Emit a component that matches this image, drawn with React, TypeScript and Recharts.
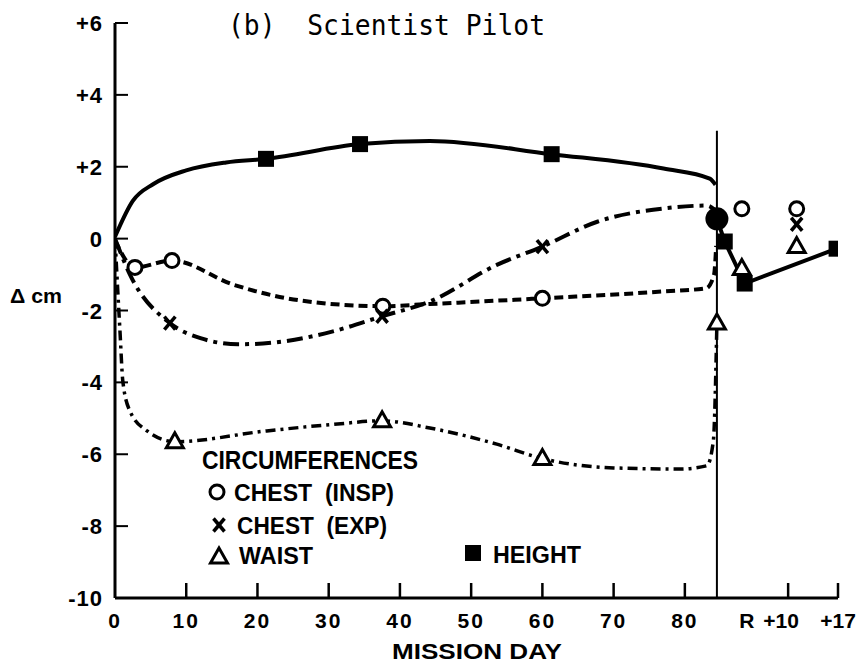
import { ComposedChart, Line, Scatter, XAxis, YAxis, ReferenceLine } from 'recharts';

// in-flight curves; m marks a plotted symbol, other points trace the drawn curve
const heightFlight = [
  { x: 0, y: 0.05 }, { x: 2.5, y: 1.05 }, { x: 5.4, y: 1.52 }, { x: 10, y: 1.9 },
  { x: 15.6, y: 2.12 }, { x: 21.2, y: 2.22, m: 1 }, { x: 34.4, y: 2.63, m: 1 },
  { x: 44.2, y: 2.72 }, { x: 61.3, y: 2.35, m: 1 }, { x: 77, y: 1.95 },
  { x: 83.5, y: 1.67 }, { x: 84.3, y: 1.5 },
];
const heightPost = [
  { x: 84.5, y: 0.55 }, { x: 85.6, y: -0.08, m: 1 }, { x: 88.4, y: -1.25, m: 1 },
  { x: 101.3, y: -0.28, m: 1 },
];
const chestInsp = [
  { x: 0, y: -0.05 }, { x: 2.8, y: -0.8, m: 1 }, { x: 8.0, y: -0.61, m: 1 },
  { x: 16.6, y: -1.28 }, { x: 26, y: -1.72 }, { x: 37.6, y: -1.88, m: 1 },
  { x: 44.2, y: -1.82 }, { x: 60, y: -1.66, m: 1 }, { x: 77, y: -1.47 },
  { x: 83, y: -1.38 }, { x: 84.1, y: -1.0 }, { x: 84.4, y: -0.2 },
];
const chestExp = [
  { x: 0, y: 0 }, { x: 2.1, y: -1.0 }, { x: 7.7, y: -2.35, m: 1 }, { x: 12, y: -2.77 },
  { x: 17.3, y: -2.94 }, { x: 24, y: -2.85 }, { x: 30.6, y: -2.58 },
  { x: 37.5, y: -2.16, m: 1 }, { x: 44.2, y: -1.75 }, { x: 53.6, y: -0.73 },
  { x: 60, y: -0.22, m: 1 }, { x: 67.7, y: 0.47 }, { x: 77, y: 0.84 },
  { x: 83.1, y: 0.92 }, { x: 84.2, y: 0.8 },
];
const waist = [
  { x: 0, y: 0 }, { x: 0.7, y: -2.58 }, { x: 1.1, y: -3.97 }, { x: 2.1, y: -4.8 },
  { x: 4.5, y: -5.35 }, { x: 8.4, y: -5.65, m: 1 }, { x: 21.3, y: -5.35 },
  { x: 30.6, y: -5.17 }, { x: 37.5, y: -5.07, m: 1 }, { x: 44.2, y: -5.27 },
  { x: 53.6, y: -5.72 }, { x: 60, y: -6.12, m: 1 }, { x: 70, y: -6.38 },
  { x: 79.4, y: -6.41 }, { x: 83.1, y: -6.32 }, { x: 84, y: -5.63 },
  { x: 84.5, y: -2.35, m: 1 },
];

// recovery / post-flight isolated points
const postInsp = [{ x: 88, y: 0.83 }, { x: 95.7, y: 0.83 }];
const postExp = [{ x: 95.7, y: 0.4 }];
const postWaist = [{ x: 88, y: -0.83 }, { x: 95.7, y: -0.22 }];
const recoveryDot = [{ x: 84.5, y: 0.55 }];

const splashdownDay = 84.5;
const yTicks = [-10, -8, -6, -4, -2, 0, 2, 4, 6];
const xTickValues = [0, 10, 20, 30, 40, 50, 60, 70, 80, 89, 94.5, 101.5];
const xTickLabels = ['0', '10', '20', '30', '40', '50', '60', '70', '80', 'R', '+10', '+17'];

const FONT = '"Liberation Sans", Arial, sans-serif';

function Mark({ kind, cx, cy }: { kind: string; cx: number; cy: number }) {
  if (kind === 'circle')
    return <circle cx={cx} cy={cy} r={7} fill="#fff" stroke="#000" strokeWidth={3} />;
  if (kind === 'x')
    return (
      <g stroke="#000" strokeWidth={3.5}>
        <line x1={cx - 5.5} y1={cy - 6.5} x2={cx + 5.5} y2={cy + 6.5} />
        <line x1={cx + 5.5} y1={cy - 6.5} x2={cx - 5.5} y2={cy + 6.5} />
      </g>
    );
  if (kind === 'tri')
    return (
      <polygon
        points={`${cx},${cy - 9} ${cx - 8.5},${cy + 6} ${cx + 8.5},${cy + 6}`}
        fill="#fff"
        stroke="#000"
        strokeWidth={3}
      />
    );
  if (kind === 'square') return <rect x={cx - 8} y={cy - 8} width={16} height={16} fill="#000" />;
  return <circle cx={cx} cy={cy} r={11.5} fill="#000" />;
}

const dotFor = (kind: string) => (props: any) => {
  const { cx, cy, payload, index } = props;
  if (!payload || !payload.m || cx == null) return <g key={index} />;
  return <Mark key={index} kind={kind} cx={cx} cy={cy} />;
};

const shapeFor = (kind: string) => (props: any) => <Mark kind={kind} cx={props.cx} cy={props.cy} />;

function XTick({ x, y, payload }: any) {
  const i = xTickValues.indexOf(payload.value);
  const label = xTickLabels[i] ?? '';
  const showLine = label !== '0' && label !== 'R';
  const post = label === 'R' || label.startsWith('+');
  const dx = label === '+10' ? -7 : label === 'R' ? -2 : 0;
  return (
    <g>
      {showLine && <line x1={x} y1={y} x2={x} y2={y - 15} stroke="#000" strokeWidth={2.5} />}
      <text x={x + dx} y={y + 30} textAnchor="middle" fontFamily={FONT} fontWeight="bold" fontSize={21}
        letterSpacing={post ? 0 : 2} fill="#000">
        {label}
      </text>
    </g>
  );
}

function YTick({ x, y, payload }: any) {
  const v = payload.value;
  const label = v > 0 ? `+${v}` : `${v}`;
  return (
    <g>
      <line x1={x} y1={y} x2={x + 13} y2={y} stroke="#000" strokeWidth={2} />
      <text x={x - 12} y={y + 8} textAnchor="end" fontFamily={FONT} fontWeight="bold" fontSize={22}
        letterSpacing={1} fill="#000">
        {label}
      </text>
    </g>
  );
}

export default function App() {
  return (
    <div style={{ position: 'absolute', left: 0, top: 0, width: 862, height: 667, background: '#fff' }}>
      <ComposedChart width={862} height={667} margin={{ top: 23, right: 24, bottom: 0, left: 0 }}>
        <XAxis
          type="number"
          dataKey="x"
          domain={[0, 101.5]}
          ticks={xTickValues}
          interval={0}
          tick={<XTick />}
          tickLine={false}
          tickSize={0}
          tickMargin={0}
          height={69}
          axisLine={{ stroke: '#000', strokeWidth: 3 }}
          allowDataOverflow
        />
        <YAxis
          type="number"
          dataKey="y"
          domain={[-10, 6]}
          ticks={yTicks}
          interval={0}
          tick={<YTick />}
          tickLine={false}
          tickSize={0}
          tickMargin={0}
          width={115}
          axisLine={{ stroke: '#000', strokeWidth: 3 }}
          allowDataOverflow
        />
        <ReferenceLine
          segment={[{ x: splashdownDay, y: 3.0 }, { x: splashdownDay, y: -10 }]}
          stroke="#000"
          strokeWidth={2}
        />
        <Line data={heightFlight} dataKey="y" type="monotone" stroke="#000" strokeWidth={4}
          dot={dotFor('square')} activeDot={false} isAnimationActive={false} />
        <Line data={heightPost} dataKey="y" type="linear" stroke="#000" strokeWidth={4}
          dot={dotFor('square')} activeDot={false} isAnimationActive={false} />
        <Line data={chestInsp} dataKey="y" type="monotone" stroke="#000" strokeWidth={4}
          strokeDasharray="9 5" dot={dotFor('circle')} activeDot={false} isAnimationActive={false} />
        <Line data={chestExp} dataKey="y" type="monotone" stroke="#000" strokeWidth={4}
          strokeDasharray="16 6 4 6" dot={dotFor('x')} activeDot={false} isAnimationActive={false} />
        <Line data={waist} dataKey="y" type="monotone" stroke="#000" strokeWidth={3.5}
          strokeDasharray="10 5 3 5" dot={dotFor('tri')} activeDot={false} isAnimationActive={false} />
        <Scatter data={postInsp} shape={shapeFor('circle')} isAnimationActive={false} />
        <Scatter data={postExp} shape={shapeFor('x')} isAnimationActive={false} />
        <Scatter data={postWaist} shape={shapeFor('tri')} isAnimationActive={false} />
        <Scatter data={recoveryDot} shape={shapeFor('dot')} isAnimationActive={false} />
      </ComposedChart>

      <svg width={862} height={667} style={{ position: 'absolute', left: 0, top: 0, pointerEvents: 'none' }}>
        <text x={228} y={35} fontFamily='"DejaVu Sans Mono", "Liberation Mono", monospace' fontSize={28}
          textLength={317} lengthAdjust="spacingAndGlyphs" xmlSpace="preserve">
          (b)  Scientist Pilot
        </text>
        <g fontFamily={FONT} fontWeight="bold" fill="#000">
          <text x={10} y={303} fontSize={21} textLength={52} lengthAdjust="spacingAndGlyphs">Δ cm</text>
          <text x={392} y={659} fontSize={22} textLength={170} lengthAdjust="spacingAndGlyphs">MISSION DAY</text>
          <text x={202} y={469} fontSize={25} textLength={216} lengthAdjust="spacingAndGlyphs">CIRCUMFERENCES</text>
          <text x={234} y={501} fontSize={23} textLength={160} lengthAdjust="spacingAndGlyphs" xmlSpace="preserve">CHEST  (INSP)</text>
          <text x={237} y={534} fontSize={23} textLength={150} lengthAdjust="spacingAndGlyphs" xmlSpace="preserve">CHEST  (EXP)</text>
          <text x={239} y={564} fontSize={23} textLength={74} lengthAdjust="spacingAndGlyphs">WAIST</text>
          <text x={493} y={563} fontSize={23} textLength={88} lengthAdjust="spacingAndGlyphs">HEIGHT</text>
        </g>
        <Mark kind="circle" cx={217} cy={492} />
        <Mark kind="x" cx={219} cy={525} />
        <Mark kind="tri" cx={219} cy={557} />
        <rect x={465} y={545} width={16} height={16} fill="#000" />
      </svg>
    </div>
  );
}
